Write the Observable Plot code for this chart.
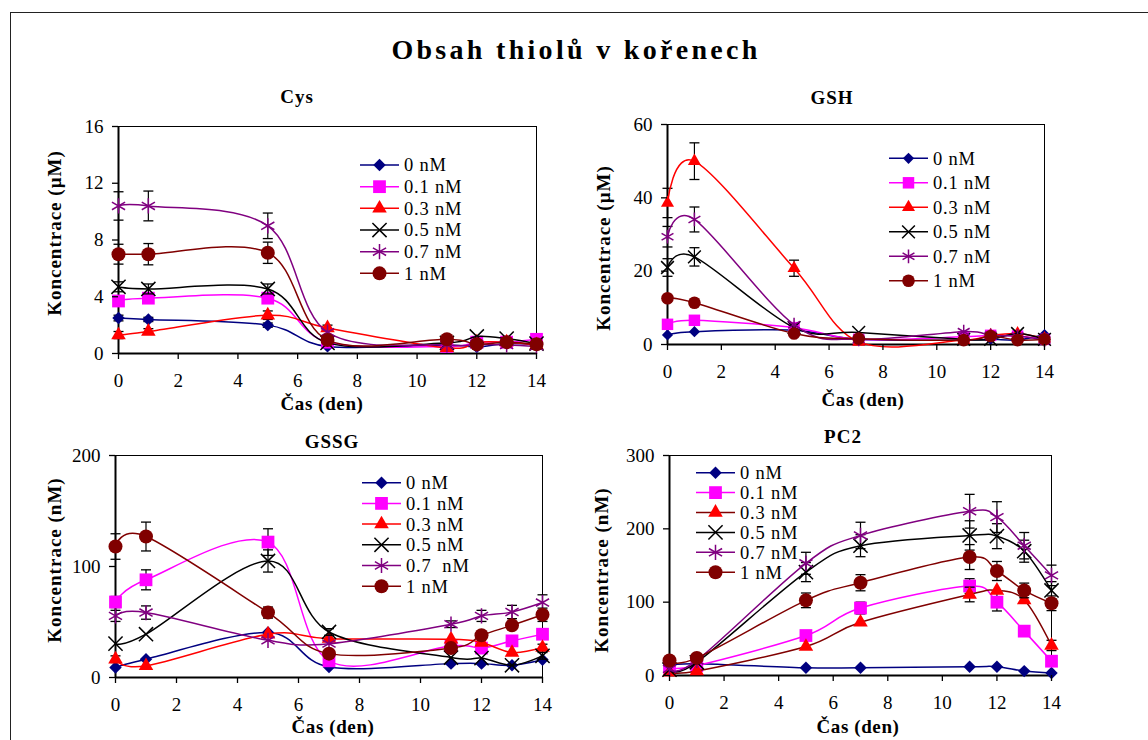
<!DOCTYPE html>
<html><head><meta charset="utf-8">
<script src="https://cdn.jsdelivr.net/npm/d3@7"></script>
<script src="https://cdn.jsdelivr.net/npm/@observablehq/plot@0.6"></script>
<style>
body{margin:0;background:#fff;}
#fig{position:relative;width:1148px;height:740px;overflow:hidden;background:#fff;font-family:"Liberation Serif","Tinos","Times New Roman","DejaVu Serif",serif;color:#000;}
.border{position:absolute;left:10px;top:12px;width:1300px;height:900px;border:1.5px solid #222;}
.lbl{position:absolute;white-space:pre;transform:translate(-50%,-50%);font-weight:bold;line-height:1;}
</style>
</head><body>
<div id="fig"><div class="border"></div></div>
<script>
// ---- data ----
const series = ["0 nM","0.1 nM","0.3 nM","0.5 nM","0.7 nM","1 nM"];
const gssgLegend = ["0 nM","0.1 nM","0.3 nM","0.5 nM","0.7  nM","1 nM"];
const days = [0,1,5,7,11,12,13,14];
const daysGSH = [0,1,4.7,7.1,11,12,13,14];
const xTicks = [0,2,4,6,8,10,12,14];

const cysTicks = [0,4,8,12,16];
const cys = [
  [2.5,2.4,2.0,0.5,0.6,0.45,0.7,0.6],
  [3.7,3.9,3.9,0.8,0.5,0.8,0.8,1.0],
  [1.3,1.55,2.7,1.8,0.4,0.8,0.8,0.6],
  [4.7,4.55,4.55,0.75,0.75,1.2,1.05,0.7],
  [10.4,10.4,9.0,1.5,0.6,0.65,0.6,0.5],
  [7.0,7.0,7.1,0.95,1.0,0.65,0.8,0.65]
];
const cysErr = [
  [0.2,0.15,0.15,0,0,0,0,0],
  [0.2,0.3,0.3,0,0,0,0,0],
  [0.25,0.2,0.3,0.2,0,0,0,0],
  [0.35,0.35,0.35,0,0,0,0,0],
  [1.0,1.05,0.9,0,0,0,0,0],
  [0.7,0.75,0.75,0,0,0,0,0]
];

const gshTicks = [0,20,40,60];
const gsh = [
  [2.6,3.5,3.9,1.4,1.2,1.4,1.2,2.7],
  [5.5,6.6,4.6,1.4,2.1,2.5,2.3,1.4],
  [38.6,50.0,20.8,0.7,1.2,2.5,3.0,1.6],
  [21.0,23.9,4.6,3.3,1.4,1.4,3.0,1.4],
  [29.4,34.1,5.4,1.4,3.5,2.5,2.3,1.2],
  [12.6,11.4,3.0,1.6,1.2,2.3,1.2,1.4]
];
const gshErr = [
  [0,0,0,0,0,0,0,0],
  [0,0,0,0,0,0,0,0],
  [4.0,5.0,2.2,0,0,0,0,0],
  [2.4,2.5,0,0,0,0,0,0],
  [2.8,3.4,0,0,0,0,0,0],
  [0,0,0,0,0,0,0,0]
];

const gssgTicks = [0,100,200];
const gssg = [
  [9,16.5,40.5,9.5,12.5,12.5,11,16],
  [68,88,122,15,28.5,26.5,33,39],
  [16.5,10.5,39,35,34.5,31.5,22.5,27],
  [30.5,39,105,41,18,17.5,11,19.5],
  [55.5,58.5,33.5,30.5,48,55.5,59,67.5],
  [118,127,58.5,21.5,26.5,38,47,56.5]
];
const gssgErr = [
  [0,0,0,0,0,0,0,0],
  [5,9,12,0,0,0,0,0],
  [3,0,0,0,0,0,0,3],
  [0,0,10,3,0,0,0,3],
  [5,6,0,0,3,5,6,7],
  [11.5,13,5,0,0,0,0,6]
];

const pc2Ticks = [0,100,200,300];
const pc2 = [
  [13,16,10.5,10.5,12,12,6,3.5],
  [11,13.5,54.5,92,122,100,60.5,19.5],
  [4.5,6,39.5,72.5,110.5,116,103,41],
  [8,18,141,177,191,190,169.5,116],
  [9,20.5,153,191,224,216,177,136.5],
  [20.5,24,102.5,126.5,161.5,142.5,116,98.5]
];
const pc2Err = [
  [0,0,0,0,0,0,0,0],
  [0,0,0,8,10,12,0,0],
  [0,0,0,0,10,0,0,7],
  [0,0,13,15,20,17,15,12],
  [0,0,15,18,23,21,18,14],
  [0,0,10,11,17,13,10,10]
];

// ---- styles ----
const FONT = "'Liberation Serif','Tinos','Times New Roman','DejaVu Serif',serif";
const colors = ["#000080","#FF00FF","#FF0000","#000000","#800080","#800000"];
const symbols = ["diamond2","square","triangle","times","asterisk","circle"];
const filled = [true,true,true,false,false,true];
const baseR = [5.6,7.2,5.4,6.5,7.2,7.0];
const cap = {draw(ctx,size){const w=Math.sqrt(size/Math.PI);ctx.moveTo(-w,0);ctx.lineTo(w,0);}};

const panels = [
  {name:"Cys", x:days, values:cys, errors:cysErr, yTicks:cysTicks, yLabel:"Koncentrace (µM)", legend:series,
   left:40, top:80, width:520, height:340, m:[46,24,67,78], scale:1,
   title:[297,96], xl:[322,403], yl:[54,233], leg:{x:360, y:165, dy:21.67}, lineColors:colors},
  {name:"GSH", x:daysGSH, values:gsh, errors:gshErr, yTicks:gshTicks, yLabel:"Koncentrace (µM)", legend:series,
   left:580, top:80, width:560, height:340, m:[44,96,76,87], scale:0.9,
   title:[832,97], xl:[863,399], yl:[603,248], leg:{x:889, y:158.3, dy:24.5}, lineColors:colors},
  {name:"GSSG", x:days, values:gssg, errors:gssgErr, yTicks:gssgTicks, yLabel:"Koncentrace (nM)", legend:gssgLegend,
   left:40, top:420, width:530, height:320, m:[35,28,63,75], scale:1,
   title:[332,441], xl:[333,726], yl:[54,560], leg:{x:362, y:482.7, dy:20.7}, lineColors:colors},
  {name:"PC2", x:days, values:pc2, errors:pc2Err, yTicks:pc2Ticks, yLabel:"Koncentrace (nM)", legend:series,
   left:580, top:420, width:560, height:320, m:[35,89,65,89], scale:1,
   title:[843,436], xl:[858,726], yl:[601,570], leg:{x:696, y:472.7, dy:19.9},
   lineColors:["#000080","#FF00FF","#800000","#000000","#800080","#800000"]}
];

const fig = document.getElementById("fig");
function addLabel(text, cx, cy, size, rotate, extra){
  const d = document.createElement("div");
  d.className = "lbl";
  d.textContent = text;
  d.style.left = cx+"px"; d.style.top = cy+"px";
  d.style.fontSize = size+"px";
  d.style.fontFamily = FONT;
  if (rotate) d.style.transform = "translate(-50%,-50%) rotate(-90deg)";
  if (extra) Object.assign(d.style, extra);
  fig.appendChild(d);
}

addLabel("Obsah thiolů v kořenech", 576, 50, 28, false, {letterSpacing:"3.3px"});

panels.forEach(p => {
  const [mt,mr,mb,ml] = p.m;
  const xMax = xTicks[xTicks.length-1];
  const yMax = p.yTicks[p.yTicks.length-1];
  const marks = [
    Plot.ruleY([yMax], {stroke:"#000", strokeWidth:1}),
    Plot.ruleX([xMax], {stroke:"#000", strokeWidth:1}),
    Plot.ruleX([0], {stroke:"#000", strokeWidth:2}),
    Plot.ruleY([0], {stroke:"#000", strokeWidth:2})
  ];
  series.forEach((s,i) => {
    const data = p.x.map((x,j) => ({x, y:p.values[i][j], e:p.errors[i][j]}));
    const ed = data.filter(d => d.e > 0);
    marks.push(Plot.link(ed, {x1:"x", x2:"x", y1:d=>d.y-d.e, y2:d=>d.y+d.e, stroke:"#000", strokeWidth:1.2}));
    marks.push(Plot.dot(ed, {x:"x", y:d=>d.y+d.e, symbol:cap, r:5, stroke:"#000", fill:"none", strokeWidth:1.3}));
    marks.push(Plot.dot(ed, {x:"x", y:d=>d.y-d.e, symbol:cap, r:5, stroke:"#000", fill:"none", strokeWidth:1.3}));
    marks.push(Plot.line(data, {x:"x", y:"y", stroke:p.lineColors[i], strokeWidth:1.5, curve:"cardinal"}));
    const r = baseR[i]*p.scale;
    marks.push(Plot.dot(data, filled[i]
      ? {x:"x", y:"y", symbol:symbols[i], r, fill:colors[i], stroke:"none"}
      : {x:"x", y:"y", symbol:symbols[i], r, fill:"none", stroke:colors[i], strokeWidth:1.5}));
  });
  marks.push(Plot.axisX({ticks:xTicks, tickSize:6, tickPadding:14, label:null, strokeWidth:1.3}));
  marks.push(Plot.axisY({ticks:p.yTicks, tickSize:6, tickPadding:9, label:null, strokeWidth:1.3}));
  const svg = Plot.plot({
    width:p.width, height:p.height,
    marginTop:mt, marginRight:mr, marginBottom:mb, marginLeft:ml,
    x:{domain:[0,xMax]}, y:{domain:[0,yMax]},
    style:{fontFamily:FONT, fontSize:"19px", color:"#000", background:"transparent", overflow:"visible"},
    marks
  });
  svg.style.position = "absolute";
  svg.style.left = p.left+"px";
  svg.style.top = p.top+"px";
  fig.appendChild(svg);
  addLabel(p.name, p.title[0], p.title[1], 19, false, {letterSpacing:"1px"});
  addLabel("Čas (den)", p.xl[0], p.xl[1], 19, false, {letterSpacing:"0.6px"});
  addLabel(p.yLabel, p.yl[0], p.yl[1], 19, true, {letterSpacing:"1px"});
});

// legends overlay
const overlay = d3.select(fig).append("svg")
  .attr("width",1148).attr("height",740)
  .style("position","absolute").style("left","0px").style("top","0px");
const symMap = {diamond2:d3.symbolDiamond2, square:d3.symbolSquare, triangle:d3.symbolTriangle, times:d3.symbolTimes, asterisk:d3.symbolAsterisk, circle:d3.symbolCircle};
panels.forEach(p => {
  p.legend.forEach((name,i) => {
    const y = p.leg.y + i*p.leg.dy;
    const g = overlay.append("g");
    g.append("line").attr("x1",p.leg.x).attr("x2",p.leg.x+39).attr("y1",y).attr("y2",y)
      .attr("stroke",p.lineColors[i]).attr("stroke-width",1.5);
    const r = baseR[i]*p.scale;
    g.append("path").attr("d", d3.symbol(symMap[symbols[i]], Math.PI*r*r)())
      .attr("transform",`translate(${p.leg.x+19.5},${y})`)
      .attr("fill", filled[i] ? colors[i] : "none")
      .attr("stroke", filled[i] ? "none" : colors[i]).attr("stroke-width",1.5);
    g.append("text").attr("x",p.leg.x+44).attr("y",y).attr("dy","0.35em")
      .attr("font-family",FONT)
      .attr("font-size",18.5).attr("letter-spacing","0.8px")
      .style("white-space","pre").text(name);
  });
});
</script>
</body></html>
